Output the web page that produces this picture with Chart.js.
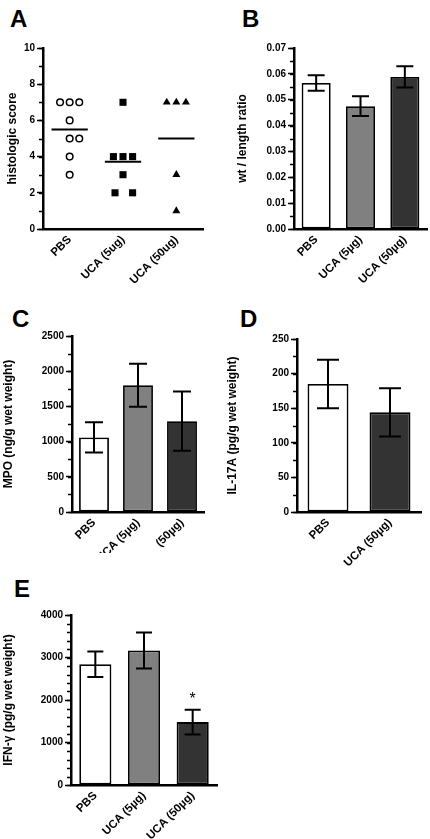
<!DOCTYPE html>
<html>
<head>
<meta charset="utf-8">
<script src="https://cdn.jsdelivr.net/npm/chart.js@4"></script>
<style>
  body { margin: 0; background: #fff; width: 430px; height: 839px; position: relative; overflow: hidden;
         font-family: "Liberation Sans", Arial, sans-serif; }
  canvas { position: absolute; }
  .tag { position: absolute; font-weight: bold; font-size: 24px; line-height: 24px; color: #000; }
</style>
</head>
<body>
<div class="tag" style="left:10px;top:7px">A</div>
<div class="tag" style="left:242px;top:7px">B</div>
<div class="tag" style="left:12px;top:307px">C</div>
<div class="tag" style="left:240px;top:307px">D</div>
<div class="tag" style="left:14px;top:577px">E</div>

<canvas id="chartA" width="215" height="260" style="left:0;top:30px"></canvas>
<canvas id="chartB" width="215" height="260" style="left:215px;top:30px"></canvas>
<canvas id="chartC" width="215" height="253" style="left:0;top:300px"></canvas>
<canvas id="chartD" width="215" height="270" style="left:215px;top:300px"></canvas>
<canvas id="chartE" width="230" height="249" style="left:0;top:590px"></canvas>

<script>
// A: histologic scores (x jitter in category units)
const groupsA = ['PBS', 'UCA (5ug)', 'UCA (50ug)'];
const pbsScores = [7, 7, 7, 6, 5, 5, 4, 3];
const pbsJitter = [-0.18, 0, 0.18, 0, 0, 0.18, 0, 0];
const uca5Scores = [7, 4, 4, 4, 3, 2, 2];
const uca5Jitter = [0, -0.18, 0, 0.18, 0, -0.15, 0.18];
const uca50Scores = [7, 7, 7, 3, 1];
const uca50Jitter = [-0.18, 0, 0.18, 0, 0];

// B: wt / length ratio
const groupsB = ['PBS', 'UCA (5µg)', 'UCA (50µg)'];
const ratioMean = [0.0565, 0.0475, 0.0588];
const ratioSem = [0.003, 0.0038, 0.0041];

// C: MPO
const groupsC = ['PBS', 'UCA (5µg)', '(50µg)'];
const mpoMean = [1060, 1800, 1290];
const mpoSem = [215, 305, 420];

// D: IL-17A
const groupsD = ['PBS', 'UCA (50µg)'];
const il17Mean = [185, 144];
const il17Sem = [35, 35];

// E: IFN-gamma
const groupsE = ['PBS', 'UCA (5µg)', 'UCA (50µg)'];
const ifnMean = [2840, 3165, 1480];
const ifnSem = [300, 425, 290];
const ifnMarks = ['', '', '*'];

const colors3 = ['#ffffff', '#808080', '#333333'];
const colors2 = ['#ffffff', '#333333'];

Chart.defaults.font.family = '"Liberation Sans", Arial, sans-serif';
Chart.defaults.font.weight = 'bold';
Chart.defaults.color = '#000';
Chart.defaults.animation = false;

const mean = arr => arr.reduce((a, b) => a + b, 0) / arr.length;

// short minor ticks on the y axis
function minorTicks(step) {
    return {
        id: 'minorTicks',
        afterDraw(chart) {
            const y = chart.scales.y;
            const ctx = chart.ctx;
            const x0 = chart.chartArea.left;
            ctx.save();
            ctx.strokeStyle = '#000';
            ctx.lineWidth = 1.5;
            for (let v = y.min; v <= y.max + step / 2; v += step) {
                const py = Math.round(y.getPixelForValue(v)) + 0.5;
                ctx.beginPath();
                ctx.moveTo(x0 - 4, py);
                ctx.lineTo(x0, py);
                ctx.stroke();
            }
            ctx.restore();
        }
    };
}

// SEM whiskers (and significance marks) on top of the bars
const errorBars = {
    id: 'errorBars',
    afterDatasetsDraw(chart) {
        const ds = chart.data.datasets[0];
        if (!ds.sem) return;
        const y = chart.scales.y;
        const ctx = chart.ctx;
        const half = ds.cap / 2;
        ctx.save();
        ctx.strokeStyle = '#000';
        ctx.lineWidth = 2;
        chart.getDatasetMeta(0).data.forEach((bar, i) => {
            const top = y.getPixelForValue(ds.data[i] + ds.sem[i]);
            const bot = y.getPixelForValue(ds.data[i] - ds.sem[i]);
            ctx.beginPath();
            ctx.moveTo(bar.x, top); ctx.lineTo(bar.x, bot);
            ctx.moveTo(bar.x - half, top); ctx.lineTo(bar.x + half, top);
            ctx.moveTo(bar.x - half, bot); ctx.lineTo(bar.x + half, bot);
            ctx.stroke();
            if (ds.marks && ds.marks[i]) {
                ctx.fillStyle = '#000';
                ctx.font = '16px "Liberation Sans", Arial, sans-serif';
                ctx.textAlign = 'center';
                ctx.textBaseline = 'middle';
                ctx.fillText(ds.marks[i], bar.x, top - 10);
            }
        });
        ctx.restore();
    }
};

function yAxis(opts) {
    return {
        min: 0,
        max: opts.max,
        afterFit: s => { s.width = opts.width; },
        border: { display: true, color: '#000', width: 2.5 },
        grid: { drawOnChartArea: false, drawTicks: true, tickLength: 6, tickWidth: 1.5, tickColor: '#000' },
        ticks: { stepSize: opts.step, padding: 2, font: { size: 10, weight: 'bold' }, callback: opts.fmt },
        title: { display: true, text: opts.title, font: { size: 12, weight: 'bold' }, padding: { top: opts.titlePad, bottom: 0 } }
    };
}

function xCatAxis(height) {
    return {
        afterFit: s => { s.height = height; },
        border: { display: true, color: '#000', width: 2.5 },
        grid: { display: false, drawTicks: false },
        ticks: { autoSkip: false, minRotation: 45, maxRotation: 45, padding: 4, font: { size: 11.5, weight: 'bold' } }
    };
}

function barChart(id, labels, values, sem, colors, cfg) {
    return new Chart(document.getElementById(id), {
        type: 'bar',
        data: {
            labels: labels,
            datasets: [{
                data: values,
                sem: sem,
                cap: cfg.cap,
                marks: cfg.marks,
                backgroundColor: colors,
                borderColor: '#000',
                borderWidth: 1.8,
                borderSkipped: false,
                categoryPercentage: 1,
                barPercentage: cfg.barPct
            }]
        },
        options: {
            responsive: false,
            layout: { padding: cfg.padding },
            plugins: { legend: { display: false }, tooltip: { enabled: false } },
            scales: {
                x: xCatAxis(cfg.xHeight),
                y: yAxis(cfg.y)
            }
        },
        plugins: [errorBars, minorTicks(cfg.minor)]
    });
}

// Panel A: scatter with group means
function pts(scores, jitter, center) {
    return scores.map((s, i) => ({ x: center + jitter[i], y: s }));
}
function meanLine(scores, center) {
    const m = mean(scores);
    return [{ x: center - 0.34, y: m }, { x: center + 0.34, y: m }];
}
const lineStyle = { type: 'scatter', showLine: true, borderColor: '#000', borderWidth: 2, pointRadius: 0 };

new Chart(document.getElementById('chartA'), {
    type: 'scatter',
    data: {
        datasets: [
            { data: pts(pbsScores, pbsJitter, 1), pointStyle: 'circle', pointRadius: 3.3,
              backgroundColor: '#fff', borderColor: '#000', borderWidth: 1.5 },
            { data: pts(uca5Scores, uca5Jitter, 2), pointStyle: 'rect', pointRadius: 5,
              backgroundColor: '#000', borderColor: '#000', borderWidth: 0 },
            { data: pts(uca50Scores, uca50Jitter, 3), pointStyle: 'triangle', pointRadius: 4.6,
              backgroundColor: '#000', borderColor: '#000', borderWidth: 0 },
            Object.assign({ data: meanLine(pbsScores, 1) }, lineStyle),
            Object.assign({ data: meanLine(uca5Scores, 2) }, lineStyle),
            Object.assign({ data: meanLine(uca50Scores, 3) }, lineStyle)
        ]
    },
    options: {
        responsive: false,
        layout: { padding: { left: 0, right: 12, top: 18, bottom: 0 } },
        plugins: { legend: { display: false }, tooltip: { enabled: false } },
        scales: {
            x: Object.assign(xCatAxis(61), {
                type: 'linear',
                min: 0.5,
                max: 3.5,
                afterBuildTicks: s => { s.ticks = [1, 2, 3].map(v => ({ value: v })); },
                ticks: { autoSkip: false, minRotation: 45, maxRotation: 45, padding: 4,
                         font: { size: 11.5, weight: 'bold' }, callback: v => groupsA[v - 1] }
            }),
            y: yAxis({ max: 10, step: 2, width: 43, title: 'histologic score', titlePad: 5 })
        }
    },
    plugins: [minorTicks(1)]
});

barChart('chartB', groupsB, ratioMean, ratioSem, colors3, {
    cap: 17, barPct: 0.655, minor: 0.005, xHeight: 61,
    padding: { left: 0, right: 3, top: 18, bottom: 0 },
    y: { max: 0.07, step: 0.01, width: 79, title: 'wt / length ratio', titlePad: 20, fmt: v => v.toFixed(2) }
});

barChart('chartC', groupsC, mpoMean, mpoSem, colors3, {
    cap: 18, barPct: 0.68, minor: 250, xHeight: 41,
    padding: { left: 0, right: 11, top: 36, bottom: 0 },
    y: { max: 2500, step: 500, width: 72, title: 'MPO (ng/g wet weight)', titlePad: 1.5 }
});

barChart('chartD', groupsD, il17Mean, il17Sem, colors2, {
    cap: 22, barPct: 0.66, minor: 25, xHeight: 58,
    padding: { left: 0, right: 9, top: 39, bottom: 0 },
    y: { max: 250, step: 50, width: 82, title: 'IL-17A (pg/g wet weight)', titlePad: 10 }
});

barChart('chartE', groupsE, ifnMean, ifnSem, colors3, {
    cap: 16, barPct: 0.66, minor: 200, xHeight: 54, marks: ifnMarks,
    padding: { left: 0, right: 13, top: 25, bottom: 0 },
    y: { max: 4000, step: 1000, width: 71, title: 'IFN-γ (pg/g wet weight)', titlePad: 1.5 }
});
</script>
</body>
</html>
